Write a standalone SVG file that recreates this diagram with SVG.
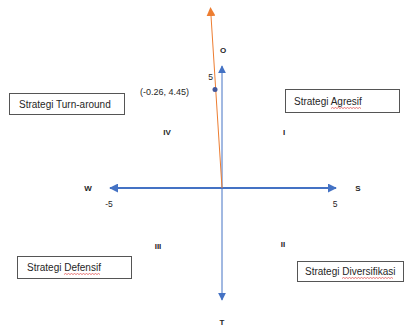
<svg xmlns="http://www.w3.org/2000/svg" width="404" height="326" viewBox="0 0 404 326">
<style>
text{font-family:"Liberation Sans","Open Sans",Arial,sans-serif;fill:#262626}
.lbl{font-size:10px}
.b{font-size:8px;font-weight:bold;text-anchor:middle}
.n{font-size:8.5px;text-anchor:middle}
.box{fill:#fff;stroke:#555;stroke-width:1}
.sq{fill:none;stroke:#e04040;stroke-width:0.7}
</style>
<defs>
<marker id="ab" viewBox="0 0 10 10" refX="9" refY="5" markerWidth="8" markerHeight="8" markerUnits="userSpaceOnUse" orient="auto"><path d="M0,0L10,5L0,10Z" fill="#4472C4"/></marker>
<marker id="ab2" viewBox="0 0 10 10" refX="9" refY="5" markerWidth="4.5" markerHeight="4.5" orient="auto"><path d="M0,0L10,5L0,10Z" fill="#4472C4"/></marker>
<marker id="ao" viewBox="0 0 10 10" refX="9" refY="5" markerWidth="9" markerHeight="9" markerUnits="userSpaceOnUse" orient="auto"><path d="M0,0L10,5L0,10Z" fill="#ED7D31"/></marker>
</defs>
<g id="connectors">
<line x1="222" y1="188" x2="222" y2="66" stroke="#4472C4" stroke-width="1" marker-end="url(#ab)"/>
<line x1="222" y1="188" x2="222" y2="300" stroke="#4472C4" stroke-width="1" marker-end="url(#ab)"/>
<line x1="222" y1="188" x2="110" y2="188" stroke="#4472C4" stroke-width="2" marker-end="url(#ab2)"/>
<line x1="222" y1="188" x2="336" y2="188" stroke="#4472C4" stroke-width="2" marker-end="url(#ab2)"/>
<line x1="222" y1="188" x2="210.5" y2="8" stroke="#ED7D31" stroke-width="1" marker-end="url(#ao)"/>
</g>
<g id="point"><circle cx="215" cy="89.5" r="2.5" fill="#44579A"/></g>
<g id="axis-labels">
<text class="b" x="223" y="53">O</text>
<text class="b" x="222" y="325">T</text>
<text class="b" x="88" y="191">W</text>
<text class="b" x="358" y="191">S</text>
<text class="n" x="210.5" y="80">5</text>
<text class="n" x="109" y="207">-5</text>
<text class="n" x="335" y="207">5</text>
<text x="140" y="95" style="font-size:9px">(-0.26, 4.45)</text>
<text class="b" x="167" y="135">IV</text>
<text class="b" x="284" y="135">I</text>
<text class="b" x="158" y="249">III</text>
<text class="b" x="283" y="247">II</text>
</g>
<g id="turnaround">
<rect class="box" x="9.5" y="93.5" width="115" height="21"/>
<text class="lbl" x="19" y="107.5">Strategi Turn-around</text>
</g>
<g id="agresif">
<rect class="box" x="285.5" y="89.5" width="114" height="23"/>
<text class="lbl" x="294" y="105">Strategi Agresif</text>
<path class="sq" d="M331,108.5l1.5,-1l1.5,1l1.5,-1l1.5,1l1.5,-1l1.5,1l1.5,-1l1.5,1l1.5,-1l1.5,1l1.5,-1l1.5,1l1.5,-1l1.5,1l1.5,-1l1.5,1l1.5,-1l1.5,1l1.5,-1l1.5,1"/>
</g>
<g id="defensif">
<rect class="box" x="17.5" y="256.5" width="114" height="22"/>
<text class="lbl" x="27" y="271">Strategi Defensif</text>
<path class="sq" d="M64,274.5l1.5,-1l1.5,1l1.5,-1l1.5,1l1.5,-1l1.5,1l1.5,-1l1.5,1l1.5,-1l1.5,1l1.5,-1l1.5,1l1.5,-1l1.5,1l1.5,-1l1.5,1l1.5,-1l1.5,1l1.5,-1l1.5,1l1.5,-1l1.5,1l1.5,-1l1.5,1"/>
</g>
<g id="diversifikasi">
<rect class="box" x="297.5" y="261.5" width="106" height="20"/>
<text class="lbl" x="305" y="275">Strategi Diversifikasi</text>
<path class="sq" d="M342,278.5l1.5,-1l1.5,1l1.5,-1l1.5,1l1.5,-1l1.5,1l1.5,-1l1.5,1l1.5,-1l1.5,1l1.5,-1l1.5,1l1.5,-1l1.5,1l1.5,-1l1.5,1l1.5,-1l1.5,1l1.5,-1l1.5,1l1.5,-1l1.5,1l1.5,-1l1.5,1l1.5,-1l1.5,1l1.5,-1l1.5,1l1.5,-1l1.5,1l1.5,-1l1.5,1l1.5,-1l1.5,1"/>
</g>
</svg>
